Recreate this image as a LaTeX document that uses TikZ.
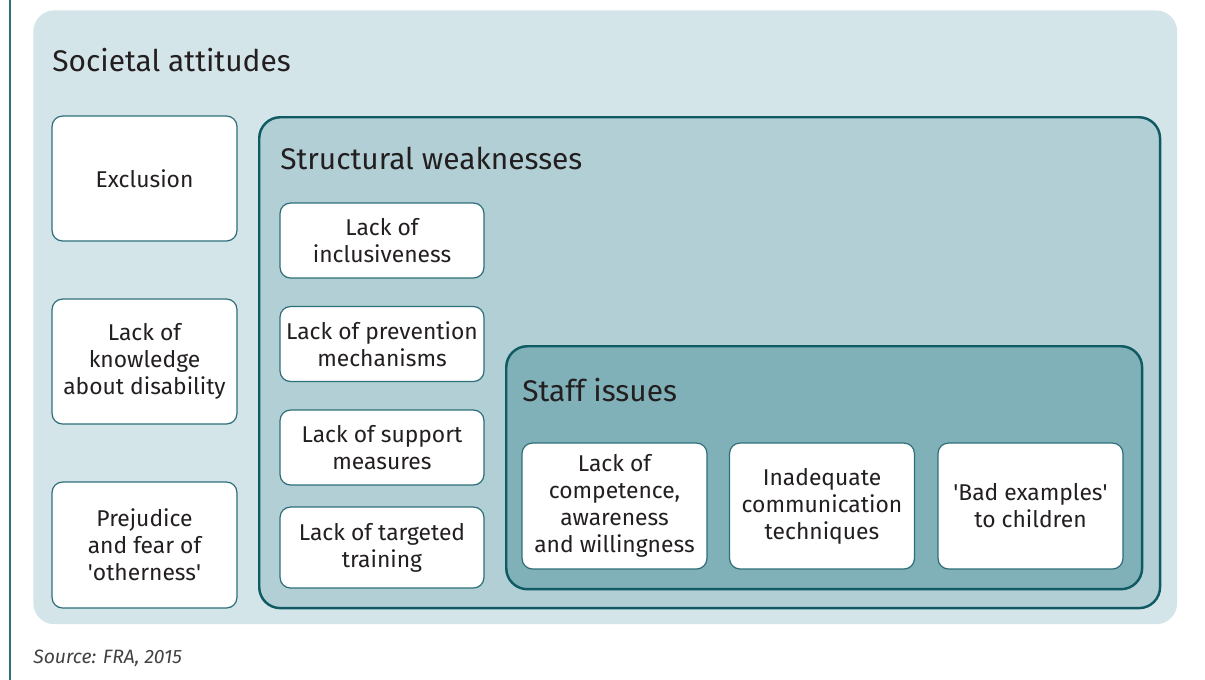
\documentclass[tikz,border=0pt]{standalone}
\usepackage{fontspec}
\setmainfont{Fira Sans}
\usepackage{tikz}
\definecolor{paleblue}{HTML}{D4E5E9}
\definecolor{midblue}{HTML}{B1CFD5}
\definecolor{deepblue}{HTML}{81B1B8}
\definecolor{frameline}{HTML}{0F5A63}
\definecolor{boxline}{HTML}{2F6F7A}
\definecolor{textgrey}{HTML}{231F20}
\tikzset{item/.style={draw=boxline,line width=0.7pt,fill=white,rounded corners=6pt,align=center,font=\fontsize{13}{15.3}\selectfont,text=textgrey,inner sep=0pt},
	frame/.style={draw=frameline,line width=1.4pt,rounded corners=12pt,anchor=north west,inner sep=0pt},
	heading/.style={font=\fontsize{17}{20}\selectfont,text=textgrey,anchor=west,inner sep=0pt}}

\begin{document}
\begin{tikzpicture}[x=0.02cm,y=-0.02cm]
				\useasboundingbox (0,0) rectangle (1205,680);
				\draw[boxline,line width=0.6pt] (10,0) -- (10,680);
				\node[anchor=north west,fill=paleblue,rounded corners=12pt,minimum width=22.88cm,minimum height=12.28cm,inner sep=0pt] (societal) at (33,10) {};
				\node[heading] (societaltitle) at (52,60) {Societal attitudes};

				\node[item,minimum width=3.7cm,minimum height=2.5cm] (exclusion) at (144.5,178.5) {Exclusion};
				\node[item,minimum width=3.7cm,minimum height=2.5cm] (knowledge) at (144.5,361.5) {Lack of\\knowledge\\about disability};
				\node[item,minimum width=3.7cm,minimum height=2.52cm] (prejudice) at (144.5,545) {Prejudice\\and fear of\\\textquotesingle otherness\textquotesingle};

				\node[frame,fill=midblue,minimum width=18.02cm,minimum height=9.82cm] (structural) at (258,116) {};
				\node[heading] (structuraltitle) at (280,158) {Structural weaknesses};

				\node[item,minimum width=4.08cm,minimum height=1.5cm] (inclusive) at (382,240.5) {Lack of\\inclusiveness};
				\node[item,minimum width=4.08cm,minimum height=1.5cm] (prevention) at (382,344) {Lack of prevention\\mechanisms};
				\node[item,minimum width=4.08cm,minimum height=1.5cm] (support) at (382,447.5) {Lack of support\\measures};
				\node[item,minimum width=4.08cm,minimum height=1.62cm] (training) at (382,547.5) {Lack of targeted\\training};

				\node[frame,fill=deepblue,minimum width=12.72cm,minimum height=4.86cm] (staff) at (505,345) {};
				\node[heading] (stafftitle) at (522,390) {Staff issues};

				\node[item,minimum width=3.7cm,minimum height=2.52cm] (competence) at (614.5,506) {Lack of\\competence,\\awareness\\and willingness};
				\node[item,minimum width=3.7cm,minimum height=2.52cm] (communication) at (822,506) {Inadequate\\communication\\techniques};
				\node[item,minimum width=3.7cm,minimum height=2.52cm] (examples) at (1030.5,506) {\textquotesingle Bad examples\textquotesingle\\to children};

				\node[anchor=west,inner sep=0pt,font=\itshape\fontsize{11}{13}\selectfont,text=textgrey!85] (source) at (33,658) {Source: FRA, 2015};
			\end{tikzpicture}
\end{document}
